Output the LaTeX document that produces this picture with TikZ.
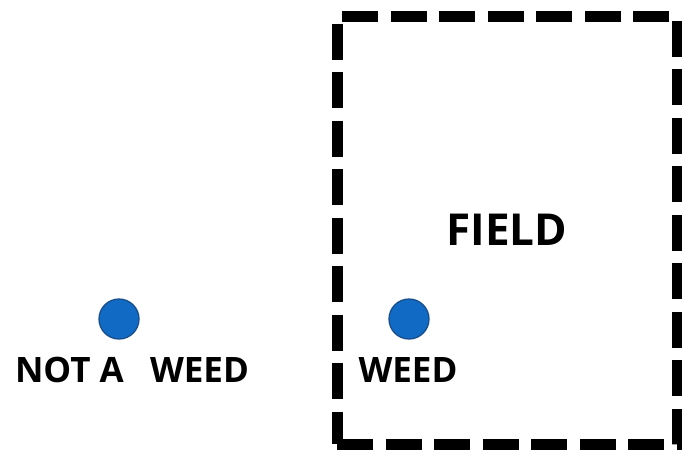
\documentclass[tikz,border=0pt]{standalone}
\usepackage{fontspec}
\setmainfont{Open Sans}
\usetikzlibrary{positioning}

\definecolor{plantblue}{RGB}{17,107,197}
\definecolor{plantedge}{RGB}{24,78,140}

\begin{document}
\begin{tikzpicture}[x=1pt, y=-1pt,
    plant/.style={circle, draw=plantedge, fill=plantblue, line width=1.3pt, minimum size=40pt, inner sep=0pt},
    tag/.style={font=\fontsize{35}{40}\selectfont\bfseries, inner sep=0pt},
    fieldbox/.style={draw, line width=11pt, dash pattern=on 36pt off 12.5pt, minimum width=340pt, minimum height=428pt, inner sep=0pt, font=\fontsize{44}{52}\selectfont\bfseries}
]
\useasboundingbox (0,0) rectangle (682,451);

\node[fieldbox] (field) at (507,230) {FIELD};

\node[plant] (outside) at (119,319) {};
\node[plant] (inside) at (409,319) {};

\node[tag] (outlbl) at (132,370) {NOT A\hspace{0.75em}WEED};
\node[tag] (inlbl) at (408,370) {WEED};
\end{tikzpicture}
\end{document}
